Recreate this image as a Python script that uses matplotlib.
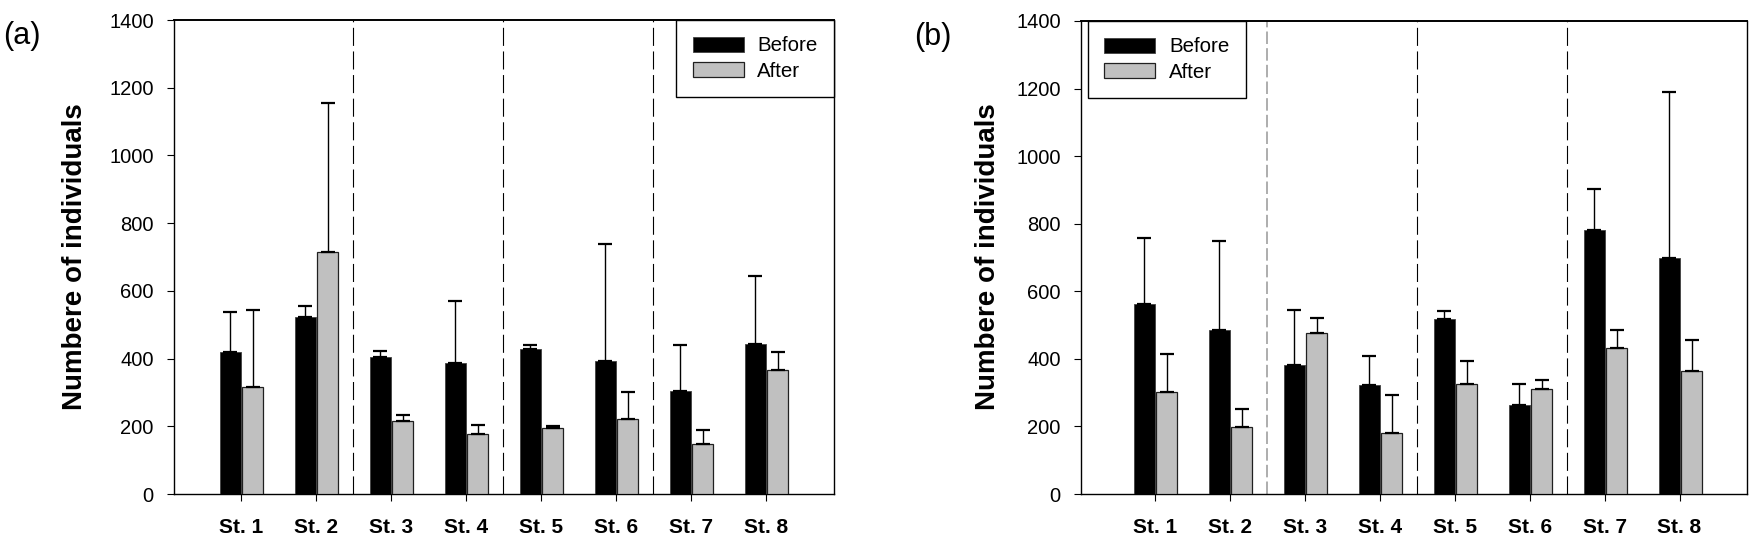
import matplotlib
matplotlib.use("Agg")
import matplotlib.pyplot as plt
import numpy as np

plt.rcParams['font.family'] = ['Liberation Sans', 'DejaVu Sans']
plt.rcParams['lines.scale_dashes'] = False

stations = ["St. 1", "St. 2", "St. 3", "St. 4", "St. 5", "St. 6", "St. 7", "St. 8"]

# panel (a)
a_before = [420, 523, 404, 387, 428, 393, 304, 443]
a_before_err = [119, 32, 17, 184, 11, 345, 135, 200]
a_after = [315, 715, 215, 178, 194, 221, 148, 367]
a_after_err = [227, 440, 17, 27, 6, 79, 40, 51]

# panel (b)
b_before = [563, 486, 383, 322, 519, 264, 781, 699]
b_before_err = [194, 262, 162, 87, 24, 61, 121, 491]
b_after = [303, 199, 477, 181, 326, 311, 431, 365]
b_after_err = [111, 52, 43, 113, 68, 27, 54, 92]

dividers = [1.5, 3.5, 5.5]
yticks = [0, 200, 400, 600, 800, 1000, 1200, 1400]

W, H = 1758, 547
fig = plt.figure(figsize=(W / 100, H / 100), dpi=100)


def px_axes(left, right, top, bottom):
    return fig.add_axes([left / W, 1 - bottom / H, (right - left) / W, (bottom - top) / H])


def draw_panel(ax, before, before_err, after, after_err, xlim, div_styles):
    x = np.arange(len(stations))
    w = 0.28
    gap = 0.02
    ax.bar(x, before, width=-w, align='edge', color='black', edgecolor='#404040',
           linewidth=0.6, zorder=3, label='Before')
    ax.bar(x + gap, after, width=w, align='edge', color='#c0c0c0', edgecolor='#202020',
           linewidth=0.9, zorder=3, label='After')
    zeros = np.zeros(len(x))
    ax.errorbar(x - w / 2, before, yerr=[zeros, before_err], fmt='none', ecolor='black',
                elinewidth=1.0, capsize=4.7, capthick=1.6, zorder=4)
    ax.errorbar(x + gap + w / 2, after, yerr=[zeros, after_err], fmt='none', ecolor='black',
                elinewidth=1.0, capsize=4.7, capthick=1.6, zorder=4)
    for d, (col, lw, dash) in zip(dividers, div_styles):
        ax.axvline(d, color=col, linewidth=lw, linestyle=(0, dash), zorder=2)
    ax.set_xlim(*xlim)
    ax.set_ylim(0, 1400)
    ax.set_yticks(yticks)
    ax.set_xticks(x)
    ax.set_xticklabels(stations, fontweight='bold', fontsize=15)
    ax.tick_params(axis='y', direction='out', length=5, width=0.8, labelsize=14.5, pad=9.5)
    ax.tick_params(axis='x', direction='out', length=5, width=0.8, pad=12)
    for s in ax.spines.values():
        s.set_linewidth(1.0)
    ax.spines['top'].set_linewidth(1.4)


def add_legend(ax, anchor, loc):
    leg = ax.legend(loc=loc, bbox_to_anchor=anchor, borderaxespad=0,
                    fancybox=False, framealpha=1, edgecolor='black', fontsize=14.8,
                    handlelength=2.47, handleheight=0.73, handletextpad=0.67,
                    borderpad=0.8, labelspacing=0.3)
    leg.get_frame().set_linewidth(1.0)
    return leg


black_div = ('black', 0.8, (13, 4))
gray_div = ('#a0a0a0', 1.2, (9, 3))

ax_a = px_axes(174, 834, 20, 494)
draw_panel(ax_a, a_before, a_before_err, a_after, a_after_err, (-0.893, 7.907),
           [black_div, black_div, black_div])
add_legend(ax_a, (1, 1), 'upper right')

ax_b = px_axes(1081, 1747, 21, 494)
draw_panel(ax_b, b_before, b_before_err, b_after, b_after_err, (-0.983, 7.90),
           [gray_div, black_div, black_div])
add_legend(ax_b, (7 / 666, 1), 'upper left')

ylab = "Numbere of individuals"
fig.text(75 / W, 1 - 257 / H, ylab, rotation=90, ha='center', va='center',
         fontsize=20, fontweight='bold')
fig.text(988 / W, 1 - 257 / H, ylab, rotation=90, ha='center', va='center',
         fontsize=20, fontweight='bold')

fig.text(3 / W, 1 - 36 / H, "(a)", ha='left', va='center', fontsize=22)
fig.text(914 / W, 1 - 37 / H, "(b)", ha='left', va='center', fontsize=22)

fig.savefig("out.png", dpi=100)
